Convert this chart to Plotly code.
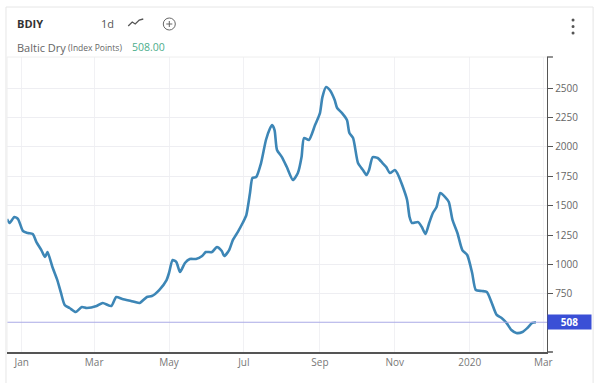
import plotly.graph_objects as go

dates = [
    "2018-12-20", "2018-12-22", "2018-12-26", "2018-12-29", "2019-01-02", "2019-01-06",
    "2019-01-10", "2019-01-13", "2019-01-17", "2019-01-20", "2019-01-22", "2019-01-26",
    "2019-01-30", "2019-02-02", "2019-02-05", "2019-02-09", "2019-02-14", "2019-02-19",
    "2019-02-23", "2019-03-03", "2019-03-08", "2019-03-15", "2019-03-19", "2019-03-24",
    "2019-03-31", "2019-04-07", "2019-04-13", "2019-04-17", "2019-04-23", "2019-04-29",
    "2019-05-01", "2019-05-04", "2019-05-07", "2019-05-10", "2019-05-14", "2019-05-18",
    "2019-05-23", "2019-05-28", "2019-05-31", "2019-06-05", "2019-06-09", "2019-06-13",
    "2019-06-15", "2019-06-19", "2019-06-22", "2019-06-26", "2019-06-30", "2019-07-03",
    "2019-07-06", "2019-07-08", "2019-07-11", "2019-07-15", "2019-07-19", "2019-07-22",
    "2019-07-24", "2019-07-26", "2019-07-28", "2019-08-01", "2019-08-05", "2019-08-10",
    "2019-08-14", "2019-08-17", "2019-08-19", "2019-08-23", "2019-08-28", "2019-09-01",
    "2019-09-03", "2019-09-06", "2019-09-09", "2019-09-13", "2019-09-15", "2019-09-19",
    "2019-09-23", "2019-09-25", "2019-09-28", "2019-10-02", "2019-10-06", "2019-10-09",
    "2019-10-11", "2019-10-14", "2019-10-18", "2019-10-22", "2019-10-25", "2019-10-28",
    "2019-11-01", "2019-11-03", "2019-11-07", "2019-11-11", "2019-11-13", "2019-11-15",
    "2019-11-20", "2019-11-23", "2019-11-26", "2019-11-29", "2019-12-02", "2019-12-05",
    "2019-12-08", "2019-12-12", "2019-12-15", "2019-12-18", "2019-12-22", "2019-12-26",
    "2019-12-30", "2020-01-03", "2020-01-06", "2020-01-11", "2020-01-15", "2020-01-19",
    "2020-01-23", "2020-01-27", "2020-01-31", "2020-02-04", "2020-02-08", "2020-02-13",
    "2020-02-17", "2020-02-21", "2020-02-24",
]
values = [
    1386, 1352, 1403, 1386, 1284, 1267,
    1258, 1190, 1122, 1063, 1105, 978,
    867, 757, 655, 629, 595, 638,
    629, 646, 672, 646, 723, 706,
    689, 672, 723, 731, 782, 867,
    927, 1037, 1020, 935, 1012, 1046,
    1046, 1071, 1105, 1105, 1148, 1114,
    1071, 1122, 1207, 1275, 1352, 1420,
    1607, 1735, 1743, 1862, 2058, 2150,
    2185, 2143, 1973, 1913, 1828, 1718,
    1777, 1913, 2075, 2058, 2185, 2287,
    2423, 2509, 2483, 2398, 2330, 2287,
    2228, 2117, 2075, 1862, 1803, 1760,
    1803, 1913, 1905, 1862, 1828, 1777,
    1803, 1777, 1675, 1548, 1403, 1352,
    1360, 1318, 1258, 1352, 1437, 1488,
    1607, 1573, 1531, 1378, 1267, 1122,
    1080, 927, 782, 774, 765, 672,
    570, 544, 502, 442, 417, 425,
    459, 502, 508,
]
last_value = 508

y_ticks = [750, 1000, 1250, 1500, 1750, 2000, 2250, 2500]
x_tickvals = ["2019-01-01", "2019-03-01", "2019-05-01", "2019-07-01", "2019-09-01",
              "2019-11-01", "2020-01-01", "2020-03-01"]
x_ticktext = ["Jan", "Mar", "May", "Jul", "Sep", "Nov", "2020", "Mar"]

FONT = "Open Sans, Roboto, sans-serif"
GRAY = "#666666"

fig = go.Figure()
fig.add_trace(go.Scatter(
    x=dates, y=values, mode="lines",
    line=dict(color="#3d86b6", width=2.6, shape="spline", smoothing=0.6),
    hoverinfo="skip", showlegend=False,
))

fig.update_layout(
    width=600, height=383,
    margin=dict(l=7, r=53, t=57, b=31, autoexpand=False),
    paper_bgcolor="white", plot_bgcolor="white",
    font=dict(family=FONT, color=GRAY, size=10),
    xaxis=dict(
        range=["2018-12-20", "2020-03-04"],
        tickvals=x_tickvals, ticktext=x_ticktext,
        showgrid=True, gridcolor="#f1f1f4", gridwidth=1,
        showline=True, linecolor="#555555", linewidth=1.5,
        ticks="", tickfont=dict(size=10, color="#777777"),
        zeroline=False, fixedrange=True,
    ),
    yaxis=dict(
        side="right", range=[255, 2764],
        tickvals=y_ticks, ticktext=[str(v) for v in y_ticks],
        showgrid=True, gridcolor="#eeeef2", gridwidth=1,
        showline=True, linecolor="#555555", linewidth=1.3,
        ticks="outside", ticklen=5, tickcolor="#555555",
        tickfont=dict(size=10, color="#666666"),
        zeroline=False, fixedrange=True,
    ),
)

# last value reference line
fig.add_shape(type="line", xref="paper", yref="y", x0=0, x1=1, y0=last_value, y1=last_value,
              line=dict(color="#aaaae6", width=1.2))
# last value label
fig.add_annotation(xref="paper", yref="y", x=1.0, y=last_value, xanchor="left", yanchor="middle",
                   text=f"<b>{last_value}</b>", showarrow=False,
                   font=dict(color="white", size=10, family=FONT),
                   bgcolor="#3a4fd6", width=41, height=12, align="center", borderpad=1)

# plot top border and left border
fig.add_shape(type="line", xref="paper", yref="paper", x0=0, x1=1, y0=1, y1=1,
              line=dict(color="#eeeeee", width=1))
fig.add_shape(type="line", xref="paper", yref="paper", x0=0, x1=0, y0=0, y1=1,
              line=dict(color="#eeeeee", width=1))
# small tick at top of right axis and extension of bottom axis
fig.add_shape(type="line", xref="paper", yref="paper", x0=1, x1=1.011, y0=1, y1=1,
              line=dict(color="#555555", width=1.3))
fig.add_shape(type="line", xref="paper", yref="paper", x0=1, x1=1.011, y0=0, y1=0,
              line=dict(color="#555555", width=1.5))

# card border
fig.add_shape(type="rect", xref="paper", yref="paper",
              x0=-1 / 539, x1=(592 - 7) / 539, y0=-40 / 295, y1=(383 - 7 - 31) / 295,
              line=dict(color="#e6e6e6", width=1), fillcolor="rgba(0,0,0,0)", layer="below")

def px_x(x):
    return (x - 7) / 539

def px_y(y):
    return (352 - y) / 295

# header texts
fig.add_annotation(xref="paper", yref="paper", x=px_x(15), y=px_y(23), xanchor="left", yanchor="middle",
                   text="<b>BDIY</b>", showarrow=False, font=dict(size=11, color="#333333", family=FONT))
fig.add_annotation(xref="paper", yref="paper", x=px_x(99), y=px_y(23), xanchor="left", yanchor="middle",
                   text="1d", showarrow=False, font=dict(size=11, color="#555555", family=FONT))
# trend icon
fig.add_shape(type="path", xref="paper", yref="paper",
              path=f"M {px_x(128)} {px_y(26)} L {px_x(132)} {px_y(22)} L {px_x(135)} {px_y(24)} "
                   f"L {px_x(139)} {px_y(20)} L {px_x(143)} {px_y(19)}",
              line=dict(color="#555555", width=1.3))
# plus circle icon
fig.add_shape(type="circle", xref="paper", yref="paper",
              x0=px_x(163), x1=px_x(175), y0=px_y(30), y1=px_y(18),
              line=dict(color="#666666", width=1))
fig.add_shape(type="line", xref="paper", yref="paper", x0=px_x(166), x1=px_x(172), y0=px_y(24), y1=px_y(24),
              line=dict(color="#666666", width=1))
fig.add_shape(type="line", xref="paper", yref="paper", x0=px_x(169), x1=px_x(169), y0=px_y(21), y1=px_y(27),
              line=dict(color="#666666", width=1))
# kebab menu dots
for yy in (20, 26.5, 33):
    fig.add_shape(type="circle", xref="paper", yref="paper",
                  x0=px_x(570.5), x1=px_x(573.5), y0=px_y(yy + 1.5), y1=px_y(yy - 1.5),
                  line=dict(width=0), fillcolor="#555555")

fig.add_annotation(xref="paper", yref="paper", x=px_x(15), y=px_y(47), xanchor="left", yanchor="middle",
                   text="Baltic Dry", showarrow=False, font=dict(size=11, color="#666666", family=FONT))
fig.add_annotation(xref="paper", yref="paper", x=px_x(66), y=px_y(47.5), xanchor="left", yanchor="middle",
                   text="(Index Points)", showarrow=False, font=dict(size=8.5, color="#666666", family=FONT))
fig.add_annotation(xref="paper", yref="paper", x=px_x(130), y=px_y(47), xanchor="left", yanchor="middle",
                   text=f"{last_value}.00", showarrow=False, font=dict(size=10.5, color="#4cae8c", family=FONT))

fig.write_html("out.html", config={"displayModeBar": False},
               post_script="document.body.style.margin='0';document.body.style.overflow='hidden';")
